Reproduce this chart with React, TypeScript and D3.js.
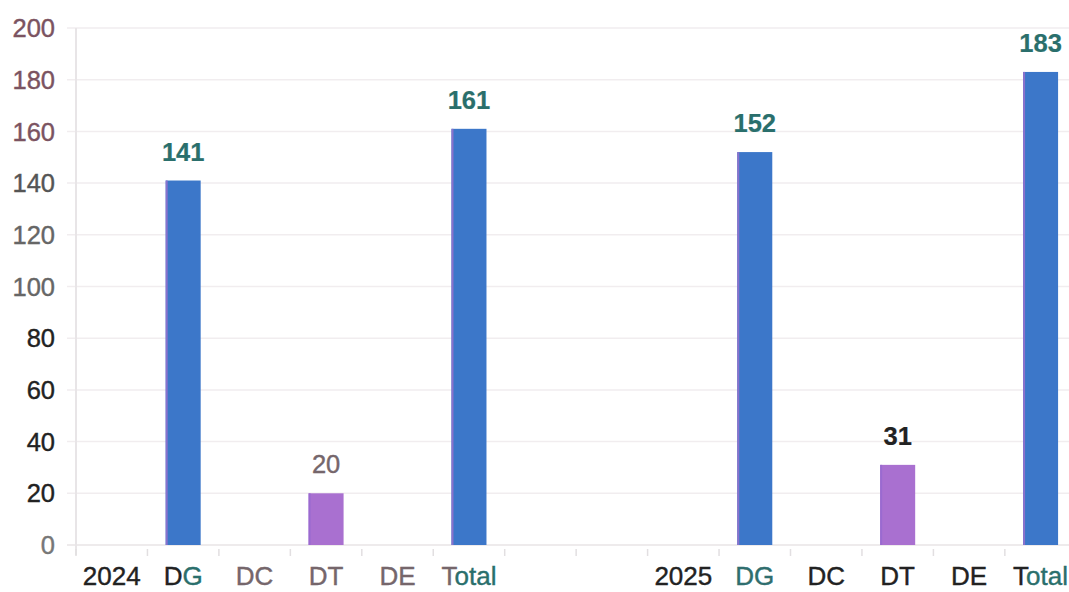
import React from 'react';
import * as d3 from 'd3';

// slots along the x axis (two empty slots between the years)
const slots = [
    '2024', '2024 DG', '2024 DC', '2024 DT', '2024 DE', '2024 Total',
    'gap 1', 'gap 2',
    '2025', '2025 DG', '2025 DC', '2025 DT', '2025 DE', '2025 Total'
];
const slotLabels = [
    '2024', 'DG', 'DC', 'DT', 'DE', 'Total',
    '', '',
    '2025', 'DG', 'DC', 'DT', 'DE', 'Total'
];
const values: (number | null)[] = [
    null, 141, null, 20, null, 161,
    null, null,
    null, 152, null, 31, null, 183
];
const yTicks = [0, 20, 40, 60, 80, 100, 120, 140, 160, 180, 200];

// colours
const MAUVE = '#7b5361';
const TEAL = '#2a6f6c';
const DARK = '#222';
const GREY_MAUVE = '#75666b';
const BLUE = '#3c77c9';
const PURPLE = '#a970d0';

const yTickColor: Record<number, string> = {
    200: MAUVE, 180: MAUVE, 160: MAUVE, 140: '#555', 120: '#666', 100: '#666',
    80: DARK, 60: DARK, 40: DARK, 20: DARK, 0: '#777'
};

// label pieces per slot: [text, colour]
const labelParts: [string, string][][] = [
    [['2024', DARK]], [['D', DARK], ['G', TEAL]], [['DC', GREY_MAUVE]], [['DT', GREY_MAUVE]],
    [['DE', GREY_MAUVE]], [['T', GREY_MAUVE], ['otal', TEAL]],
    [], [],
    [['2025', DARK]], [['DG', '#2f6e6e']], [['DC', DARK]], [['DT', DARK]],
    [['DE', DARK]], [['T', DARK], ['otal', TEAL]]
];
const valueStyle: Record<number, { color: string; weight: number }> = {
    1: { color: TEAL, weight: 700 }, 3: { color: GREY_MAUVE, weight: 400 }, 5: { color: TEAL, weight: 700 },
    9: { color: TEAL, weight: 700 }, 11: { color: DARK, weight: 700 }, 13: { color: TEAL, weight: 700 }
};

const width = 1069;
const height = 592;
const margin = { top: 28, left: 76, bottom: 47 };

const App: React.FC = () => {
    const x = d3.scaleBand<string>()
        .domain(slots)
        .range([margin.left, margin.left + 71.45 * slots.length])
        .padding(0);
    const y = d3.scaleLinear().domain([0, 200]).range([height - margin.bottom, margin.top]);
    const bw = x.bandwidth() * 0.49;
    const font = '"Liberation Sans", Arial, sans-serif';
    const ticksX = slots.map(s => x(s) as number);

    return (
        <svg width={width} height={height} style={{ position: 'absolute', left: 0, top: 0, background: '#fff' }}
            fontFamily={font}>
            {yTicks.map(t => (
                <g key={t}>
                    <line x1={67} x2={width} y1={y(t)} y2={y(t)} stroke={t === 0 ? '#e8e4e6' : '#f1edef'} strokeWidth={1.5} />
                    <text x={55} y={y(t)} dy="0.36em" textAnchor="end" fontSize={25.5} fill={yTickColor[t]}
                        stroke={yTickColor[t]} strokeWidth={0.4}>{t}</text>
                </g>
            ))}
            <line x1={margin.left} x2={margin.left} y1={margin.top} y2={y(0) + 10} stroke="#e8e5e7" strokeWidth={2} />
            {ticksX.map((tx, i) => (
                <line key={i} x1={tx} x2={tx} y1={y(0) + 4} y2={y(0) + 11} stroke="#e2dfe1" strokeWidth={1.5} />
            ))}
            {slots.map((s, i) => {
                const v = values[i];
                if (v === null) return null;
                const cx = (x(s) as number) + x.bandwidth() / 2;
                const fill = slotLabels[i] === 'DT' ? PURPLE : BLUE;
                const st = valueStyle[i];
                return (
                    <g key={s}>
                        <rect x={cx - bw / 2} y={y(v)} width={bw} height={y(0) - y(v)} fill={fill} />
                        <rect x={cx - bw / 2} y={y(v)} width={2} height={y(0) - y(v)} fill={fill === BLUE ? '#8a72cc' : '#9a6ad0'} />
                        <text x={cx} y={y(v) - 20} textAnchor="middle" fontSize={25.5} fill={st.color} fontWeight={st.weight}
                            stroke={st.color} strokeWidth={st.weight === 700 ? 0.2 : 0.4}>{v}</text>
                    </g>
                );
            })}
            {slots.map((s, i) => (
                <text key={'l' + s} x={(x(s) as number) + x.bandwidth() / 2} y={585} textAnchor="middle" fontSize={26}>
                    {labelParts[i].map(([t, c], j) => <tspan key={j} fill={c} stroke={c} strokeWidth={0.4}>{t}</tspan>)}
                </text>
            ))}
        </svg>
    );
};

export default App;
